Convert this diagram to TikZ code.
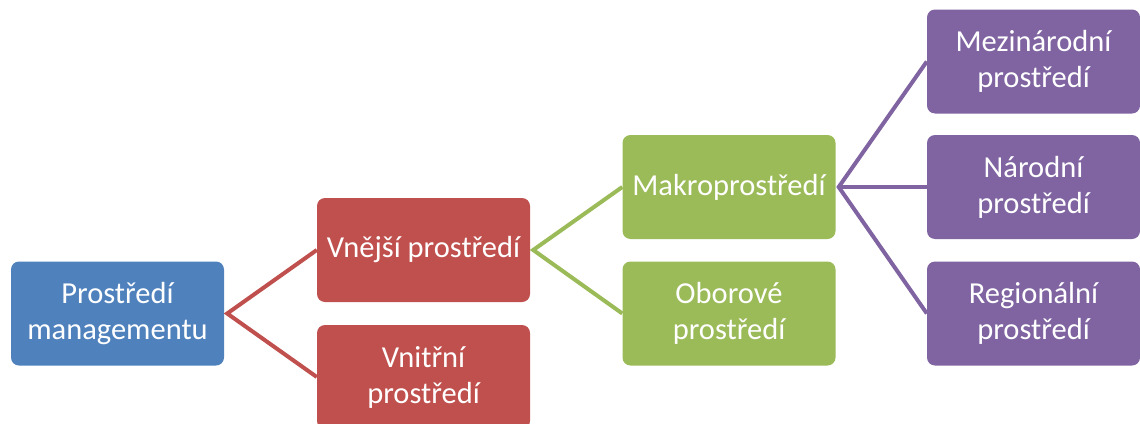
\documentclass[tikz,border=0pt]{standalone}
\usepackage{fontspec}
\setmainfont{Carlito}
\definecolor{cblue}{HTML}{4F81BD}
\definecolor{cred}{HTML}{C0504D}
\definecolor{cgreen}{HTML}{9BBB59}
\definecolor{cpurple}{HTML}{8064A2}
\tikzset{
  box/.style={rounded corners=8pt, minimum width=213pt, minimum height=104pt, inner sep=0pt,
    text=white, align=center, font=\fontsize{30.5}{36}\selectfont},
  link/.style={line width=4pt}
}
\begin{document}
\begin{tikzpicture}[x=1pt,y=-1pt]
\useasboundingbox (0,0) rectangle (1140,423);
\clip (0,0) rectangle (1140,423);
\node[box, fill=cblue] (root) at (117.5,313.5) {Prostředí\\managementu};
\node[box, fill=cred] (vnejsi) at (423.5,250) {Vnější prostředí};
\node[box, fill=cred] (vnitrni) at (423.5,377) {Vnitřní\\prostředí};
\node[box, fill=cgreen] (makro) at (729,187) {Makroprostředí};
\node[box, fill=cgreen] (obor) at (729,313.5) {Oborové\\prostředí};
\node[box, fill=cpurple] (mezi) at (1033.5,61.5) {Mezinárodní\\prostředí};
\node[box, fill=cpurple] (narod) at (1033.5,187) {Národní\\prostředí};
\node[box, fill=cpurple] (region) at (1033.5,313.5) {Regionální\\prostředí};
\draw[link, cred] (vnejsi.west) -- ([xshift=3pt]root.east) -- (vnitrni.west);
\draw[link, cgreen] (makro.west) -- ([xshift=3pt]vnejsi.east) -- (obor.west);
\draw[link, cpurple] (mezi.west) -- ([xshift=3pt]makro.east) -- (region.west);
\draw[link, cpurple] ([xshift=3pt]makro.east) -- (narod.west);
\end{tikzpicture}
\end{document}
